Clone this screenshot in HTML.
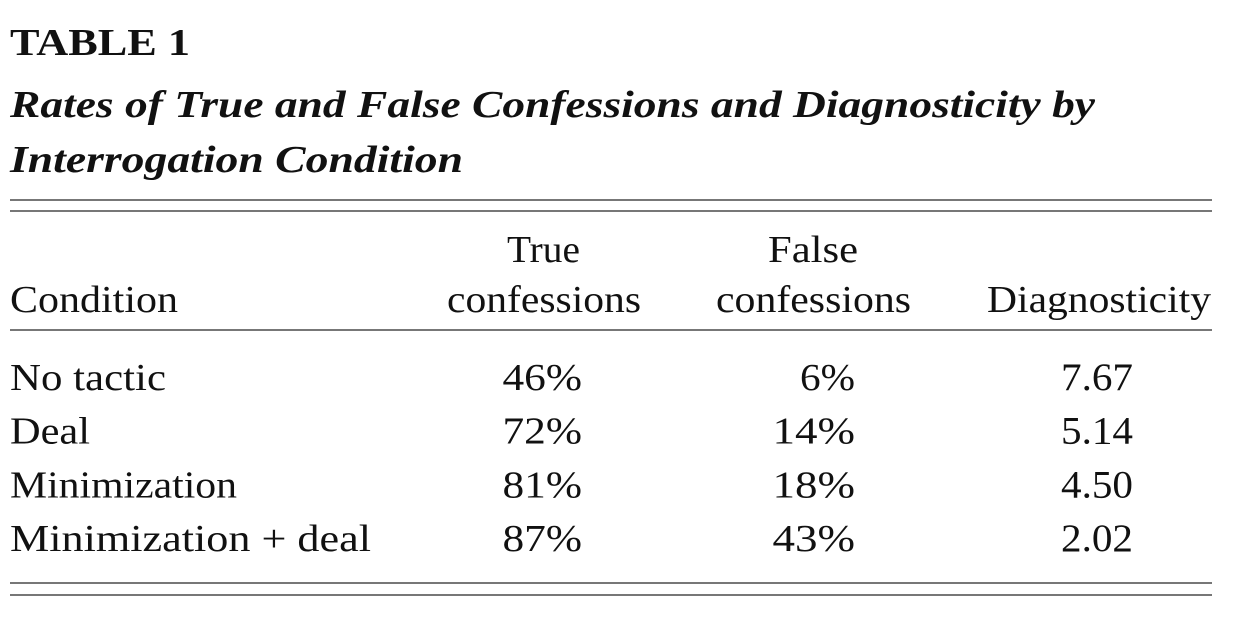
<!DOCTYPE html>
<html><head><meta charset="utf-8">
<style>
html,body{margin:0;padding:0;background:#fff;}
svg{display:block;}
text{font-family:"Liberation Serif",serif;fill:#111;}
</style></head>
<body>
<svg width="1248" height="626" viewBox="0 0 1248 626">
<text x="10" y="55" font-size="38" font-weight="bold" textLength="180" lengthAdjust="spacingAndGlyphs">TABLE 1</text>
<text x="10" y="117" font-size="38" font-weight="bold" font-style="italic" textLength="1085" lengthAdjust="spacingAndGlyphs">Rates of True and False Confessions and Diagnosticity by</text>
<text x="10" y="172" font-size="38" font-weight="bold" font-style="italic" textLength="453" lengthAdjust="spacingAndGlyphs">Interrogation Condition</text>
<rect x="10" y="199" width="1202" height="2" fill="#777"/>
<rect x="10" y="210" width="1202" height="2" fill="#777"/>
<text x="10" y="312" font-size="38" textLength="168" lengthAdjust="spacingAndGlyphs">Condition</text>
<text x="507" y="262" font-size="38" textLength="73" lengthAdjust="spacingAndGlyphs">True</text>
<text x="447" y="312" font-size="38" textLength="194" lengthAdjust="spacingAndGlyphs">confessions</text>
<text x="768" y="262" font-size="38" textLength="90" lengthAdjust="spacingAndGlyphs">False</text>
<text x="716" y="312" font-size="38" textLength="195" lengthAdjust="spacingAndGlyphs">confessions</text>
<text x="987" y="312" font-size="38" textLength="224" lengthAdjust="spacingAndGlyphs">Diagnosticity</text>
<rect x="10" y="329" width="1202" height="2" fill="#777"/>
<g id="rows"></g>
<rect x="10" y="582" width="1202" height="2" fill="#777"/>
<rect x="10" y="594" width="1202" height="2" fill="#777"/>
</svg>
<script>
const conditions = ["No tactic","Deal","Minimization","Minimization + deal"];
const trueRates = [46,72,81,87];
const falseRates = [6,14,18,43];
const diagnosticity = ["7.67","5.14","4.50","2.02"];
const condWidths = [156,80,227,361];
const NS="http://www.w3.org/2000/svg";
const g=document.getElementById('rows');
function t(x,y,str,anchor,w,fs){
  const el=document.createElementNS(NS,'text');
  el.setAttribute('x',x);el.setAttribute('y',y);
  el.setAttribute('font-size',fs||'38');
  if(anchor)el.setAttribute('text-anchor',anchor);
  if(w){el.setAttribute('textLength',w);el.setAttribute('lengthAdjust','spacingAndGlyphs');}
  el.textContent=str;g.appendChild(el);return el;
}
conditions.forEach((c,i)=>{
  const y=390+i*53.7;
  const a=t(10,y,c,null,condWidths[i]);
  
  
  const s1=String(trueRates[i])+'%';
  const b=t(582,y,s1,'end',s1.length*26.5);
  
  
  const s2=String(falseRates[i])+'%';
  const d=t(855,y,s2,'end',s2.length*27.5);
  
  
  const e=t(1133,y,diagnosticity[i],'end',72,'39');
  
  
});
</script>
</body></html>
